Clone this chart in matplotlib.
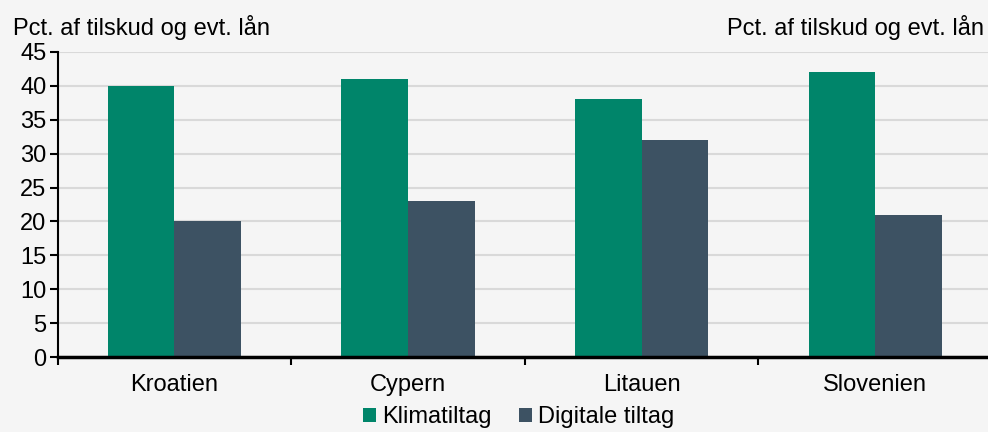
import numpy as np
import matplotlib.pyplot as plt

# Data
countries = ['Kroatien', 'Cypern', 'Litauen', 'Slovenien']
klima = [40, 41, 38, 42]
digital = [20, 23, 32, 21]

plt.rcParams['font.family'] = ['Liberation Sans', 'DejaVu Sans']

bg = '#f5f5f5'
green = '#00856a'
slate = '#3d5263'
fs = 17

fig = plt.figure(figsize=[9.88, 4.32], dpi=100, facecolor=bg)
ax = fig.add_axes([57.5 / 988, 1 - 357 / 432, 934.5 / 988, 305 / 432])
ax.set_facecolor(bg)

x = np.arange(len(countries))
w = 0.285
ax.bar(x - w / 2, klima, w, color=green, label='Klimatiltag', zorder=3)
ax.bar(x + w / 2, digital, w, color=slate, label='Digitale tiltag', zorder=3)

ax.set_ylim(0, 45)
ax.set_yticks(range(0, 50, 5))
ax.set_xlim(-0.5, len(countries) - 0.5)
ax.set_xticks(x)
ax.set_xticklabels(countries)
ax.set_xticks(np.arange(-0.5, len(countries), 1), minor=True)
ax.tick_params(axis='x', which='major', length=0, pad=12, labelsize=fs)
ax.tick_params(axis='x', which='minor', length=6, width=1.5, direction='out')
ax.tick_params(axis='y', length=6, width=1.5, direction='out', pad=2,
               labelsize=fs)

ax.grid(axis='y', color='#d9d9d9', linewidth=1.5, zorder=0)
for side in ['top', 'right']:
    ax.spines[side].set_visible(False)
ax.spines['left'].set_linewidth(1.5)
ax.spines['bottom'].set_linewidth(2.5)
ax.spines['bottom'].set_zorder(4)

fig.text(13 / 988, 1 - 27 / 432, 'Pct. af tilskud og evt. lån',
         fontsize=fs, va='center', ha='left')
fig.text(984 / 988, 1 - 27 / 432, 'Pct. af tilskud og evt. lån',
         fontsize=fs, va='center', ha='right')

fig.legend(loc='center', bbox_to_anchor=(0.525, 1 - 417 / 432), ncol=2,
           frameon=False, fontsize=fs, handlelength=0.55, handleheight=0.55,
           handletextpad=0.25, columnspacing=1.15, borderaxespad=0)

fig.savefig('out.png', dpi=100, facecolor=bg)
